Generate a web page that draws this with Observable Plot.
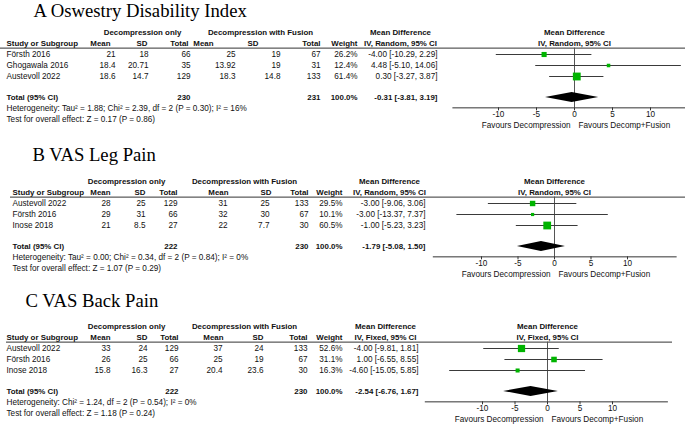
<!DOCTYPE html>
<html><head><meta charset="utf-8">
<script src="https://cdn.jsdelivr.net/npm/d3@7"></script>
<script src="https://cdn.jsdelivr.net/npm/@observablehq/plot@0.6"></script>
<style>
html,body{margin:0;padding:0;background:#fff;}
#fig{position:relative;width:685px;height:424px;overflow:hidden;background:#fff;}
#fig svg{position:absolute;left:0;background:transparent;}
</style></head><body><div id="fig"></div>
<script>
// ---------- DATA ----------
const ticks = [-10, -5, 0, 5, 10];
const colHeaders = ["Mean", "SD", "Total", "Mean", "SD", "Total", "Weight"];
const favours = ["Favours Decompression", "Favours Decomp+Fusion"];

// Panel A: Oswestry Disability Index
const titleA = "A Oswestry Disability Index";
const methodA = "IV, Random, 95% CI";
const studiesA = ["Försth 2016", "Ghogawala 2016", "Austevoll 2022"];
const mean1A = ["21", "18.4", "18.6"];
const sd1A = ["18", "20.71", "14.7"];
const n1A = ["66", "35", "129"];
const mean2A = ["25", "13.92", "18.3"];
const sd2A = ["19", "19", "14.8"];
const n2A = ["67", "31", "133"];
const weightA = [26.2, 12.4, 61.4];
const mdA = [-4.00, 4.48, 0.30];
const loA = [-10.29, -5.10, -3.27];
const hiA = [2.29, 14.06, 3.87];
const totalA = {n1: "230", n2: "231", md: -0.31, lo: -3.81, hi: 3.19};
const hetA = "Heterogeneity: Tau² = 1.88; Chi² = 2.39, df = 2 (P = 0.30); I² = 16%";
const testA = "Test for overall effect: Z = 0.17 (P = 0.86)";

// Panel B: VAS Leg Pain
const titleB = "B VAS Leg Pain";
const methodB = "IV, Random, 95% CI";
const studiesB = ["Austevoll 2022", "Försth 2016", "Inose 2018"];
const mean1B = ["28", "29", "21"];
const sd1B = ["25", "31", "8.5"];
const n1B = ["129", "66", "27"];
const mean2B = ["31", "32", "22"];
const sd2B = ["25", "30", "7.7"];
const n2B = ["133", "67", "30"];
const weightB = [29.5, 10.1, 60.5];
const mdB = [-3.00, -3.00, -1.00];
const loB = [-9.06, -13.37, -5.23];
const hiB = [3.06, 7.37, 3.23];
const totalB = {n1: "222", n2: "230", md: -1.79, lo: -5.08, hi: 1.50};
const hetB = "Heterogeneity: Tau² = 0.00; Chi² = 0.34, df = 2 (P = 0.84); I² = 0%";
const testB = "Test for overall effect: Z = 1.07 (P = 0.29)";

// Panel C: VAS Back Pain
const titleC = "C VAS Back Pain";
const methodC = "IV, Fixed, 95% CI";
const studiesC = ["Austevoll 2022", "Försth 2016", "Inose 2018"];
const mean1C = ["33", "26", "15.8"];
const sd1C = ["24", "25", "16.3"];
const n1C = ["129", "66", "27"];
const mean2C = ["37", "25", "20.4"];
const sd2C = ["24", "19", "23.6"];
const n2C = ["133", "67", "30"];
const weightC = [52.6, 31.1, 16.3];
const mdC = [-4.00, 1.00, -4.60];
const loC = [-9.81, -6.55, -15.05];
const hiC = [1.81, 8.55, 5.85];
const totalC = {n1: "222", n2: "230", md: -2.54, lo: -6.76, hi: 1.67};
const hetC = "Heterogeneity: Chi² = 1.24, df = 2 (P = 0.54); I² = 0%";
const testC = "Test for overall effect: Z = 1.18 (P = 0.24)";

// ---------- LAYOUT (positions/styles only) ----------
const FONT = "'Liberation Sans', Arial, sans-serif";
const SERIF = "'Liberation Serif', 'Times New Roman', serif";
const FS = 8.2;
const FSB = 7.9;
const GREEN = "#00b400";
const ROW = {group: -2, hdr: -1, line: -0.58, total: 3.9, het: 4.9, test: 5.9, axis: 4.85, tickLab: 5.45, fav: 6.4};

const layouts = [
  {top: 0, height: 134, y0: 54, step: 11, zeroX: 574, unit: 7.6, axis: [-16, 16], lineL: 0, lineR: 0,
   titleX: 33, titleRow: -3.45, studyX: 6,
   valR: [115, 148, 190, 235, 280, 320, 357], hdrR: [110, 147, 188, 213, 258, 320, 357],
   mdR: 437, mdC: 400, grpC: [142, 260]},
  {top: 134, height: 148, y0: 203, step: 11, zeroX: 554, unit: 7.3, axis: [-16.6, 16.8], lineL: 10, lineR: 0,
   titleX: 32, titleRow: -3.9, studyX: 12,
   valR: [110, 145, 177, 227, 269, 308, 342], hdrR: [110, 145, 177, 228, 271, 308, 342],
   mdR: 425, mdC: 389, grpC: [126, 244]},
  {top: 282, height: 142, y0: 348, step: 11, zeroX: 547, unit: 6.5, axis: [-18.8, 18.6], lineL: 6, lineR: 13,
   titleX: 25, titleRow: -3.8, studyX: 6,
   valR: [110, 147, 178, 222, 263, 307, 342], hdrR: [110, 147, 178, 223, 263, 307, 342],
   mdR: 418, mdC: 385, grpC: [126, 244]}
];

const panels = [
  {title: titleA, method: methodA, studies: studiesA, m1: mean1A, s1: sd1A, n1: n1A, m2: mean2A, s2: sd2A, n2: n2A,
   w: weightA, md: mdA, lo: loA, hi: hiA, total: totalA, het: hetA, test: testA},
  {title: titleB, method: methodB, studies: studiesB, m1: mean1B, s1: sd1B, n1: n1B, m2: mean2B, s2: sd2B, n2: n2B,
   w: weightB, md: mdB, lo: loB, hi: hiB, total: totalB, het: hetB, test: testB},
  {title: titleC, method: methodC, studies: studiesC, m1: mean1C, s1: sd1C, n1: n1C, m2: mean2C, s2: sd2C, n2: n2C,
   w: weightC, md: mdC, lo: loC, hi: hiC, total: totalC, het: hetC, test: testC}
];

const fmt = v => v.toFixed(2);
const ciText = (m, l, h) => `${fmt(m)} [${fmt(l)}, ${fmt(h)}]`;

function label(text, row, x, opts = {}) {
  return Plot.text([text], {y: row, text: d => d, frameAnchor: "left", dx: x, fill: "#111", ...opts});
}
const bold = {fontWeight: "bold", fontSize: FSB};

const fig = document.getElementById("fig");

panels.forEach((P, pi) => {
  const L = layouts[pi];
  const rows = P.studies.map((s, i) => ({
    row: i, study: s, m1: P.m1[i], s1: P.s1[i], n1: P.n1[i], m2: P.m2[i], s2: P.s2[i], n2: P.n2[i],
    w: P.w[i], wt: P.w[i].toFixed(1) + "%", md: P.md[i], lo: P.lo[i], hi: P.hi[i],
    ci: ciText(P.md[i], P.lo[i], P.hi[i])
  }));
  const valKeys = ["m1", "s1", "n1", "m2", "s2", "n2", "wt"];
  const h = 5 / L.step; // diamond half-height in row units
  const T = P.total;
  const diamond = [
    {y: ROW.total - h, x1: T.md, x2: T.md},
    {y: ROW.total, x1: T.lo, x2: T.hi},
    {y: ROW.total + h, x1: T.md, x2: T.md}
  ];
  const localY0 = L.y0 - L.top;

  const marks = [
    Plot.text([P.title], {y: L.titleRow, text: d => d, frameAnchor: "left", dx: L.titleX, textAnchor: "start",
      lineAnchor: "bottom", fontFamily: SERIF, fontSize: 18.7, fill: "#000"}),
    label("Decompression only", ROW.group, L.grpC[0], {textAnchor: "middle", ...bold}),
    label("Decompression with Fusion", ROW.group, L.grpC[1], {textAnchor: "middle", ...bold}),
    label("Mean Difference", ROW.group, L.mdC, {textAnchor: "middle", ...bold}),
    label(P.method, ROW.hdr, L.mdC, {textAnchor: "middle", ...bold}),
    label("Study or Subgroup", ROW.hdr, L.studyX, {textAnchor: "start", ...bold}),
    ...colHeaders.map((c, j) => label(c, ROW.hdr, L.hdrR[j], {textAnchor: "end", ...bold})),
    Plot.text(["Mean Difference"], {x: 0, y: ROW.group, text: d => d, fill: "#111", ...bold}),
    Plot.text([P.method], {x: 0, y: ROW.hdr, text: d => d, fill: "#111", ...bold}),
    Plot.ruleY([ROW.line], {stroke: "#333", strokeWidth: 1, insetLeft: L.lineL, insetRight: L.lineR}),
    Plot.text(rows, {y: "row", text: "study", frameAnchor: "left", dx: L.studyX, textAnchor: "start", fill: "#111"}),
    ...valKeys.map((k, j) => Plot.text(rows, {y: "row", text: k, frameAnchor: "left", dx: L.valR[j], textAnchor: "end", fill: "#111"})),
    Plot.text(rows, {y: "row", text: "ci", frameAnchor: "left", dx: L.mdR, textAnchor: "end", fill: "#111"}),
    label("Total (95% CI)", ROW.total, L.studyX, {textAnchor: "start", ...bold}),
    label(T.n1, ROW.total, L.valR[2], {textAnchor: "end", ...bold}),
    label(T.n2, ROW.total, L.valR[5], {textAnchor: "end", ...bold}),
    label("100.0%", ROW.total, L.valR[6], {textAnchor: "end", ...bold}),
    label(ciText(T.md, T.lo, T.hi), ROW.total, L.mdR, {textAnchor: "end", ...bold}),
    label(P.het, ROW.het, L.studyX, {textAnchor: "start"}),
    label(P.test, ROW.test, L.studyX, {textAnchor: "start"}),
    Plot.ruleX([0], {y1: ROW.line, y2: ROW.axis, stroke: "#555", strokeWidth: 1}),
    Plot.ruleY(rows, {y: "row", x1: "lo", x2: "hi", stroke: "#3a3a3a", strokeWidth: 1}),
    Plot.dot(rows, {x: "md", y: "row", r: "w", symbol: "square", fill: GREEN, stroke: null}),
    Plot.areaX(diamond, {y: "y", x1: "x1", x2: "x2", fill: "#000", curve: "linear"}),
    Plot.ruleY([ROW.axis], {x1: L.axis[0], x2: L.axis[1], stroke: "#333", strokeWidth: 1}),
    Plot.ruleX(ticks, {x: d => d, y1: ROW.axis, y2: ROW.axis + 3 / L.step, stroke: "#333", strokeWidth: 1}),
    Plot.text(ticks, {x: d => d, y: ROW.tickLab, text: d => String(d), fill: "#111"}),
    Plot.text([favours[0]], {x: 0, y: ROW.fav, text: d => d, textAnchor: "end", dx: -4, fill: "#111"}),
    Plot.text([favours[1]], {x: 0, y: ROW.fav, text: d => d, textAnchor: "start", dx: 4, fill: "#111"})
  ];

  const svg = Plot.plot({
    width: 685,
    height: L.height,
    marginTop: 0, marginBottom: 0, marginLeft: 0, marginRight: 0,
    style: {fontFamily: FONT, fontSize: FS + "px", background: "transparent", overflow: "visible"},
    x: {domain: [-10, 10], range: [L.zeroX - 10 * L.unit, L.zeroX + 10 * L.unit], axis: null},
    y: {domain: [0, 1], range: [localY0, localY0 + L.step], axis: null},
    r: {type: "sqrt", domain: [0, 100], range: [0, 10 / Math.sqrt(Math.PI)]},
    marks
  });
  svg.style.top = L.top + "px";
  fig.appendChild(svg);
});
</script></body></html>
